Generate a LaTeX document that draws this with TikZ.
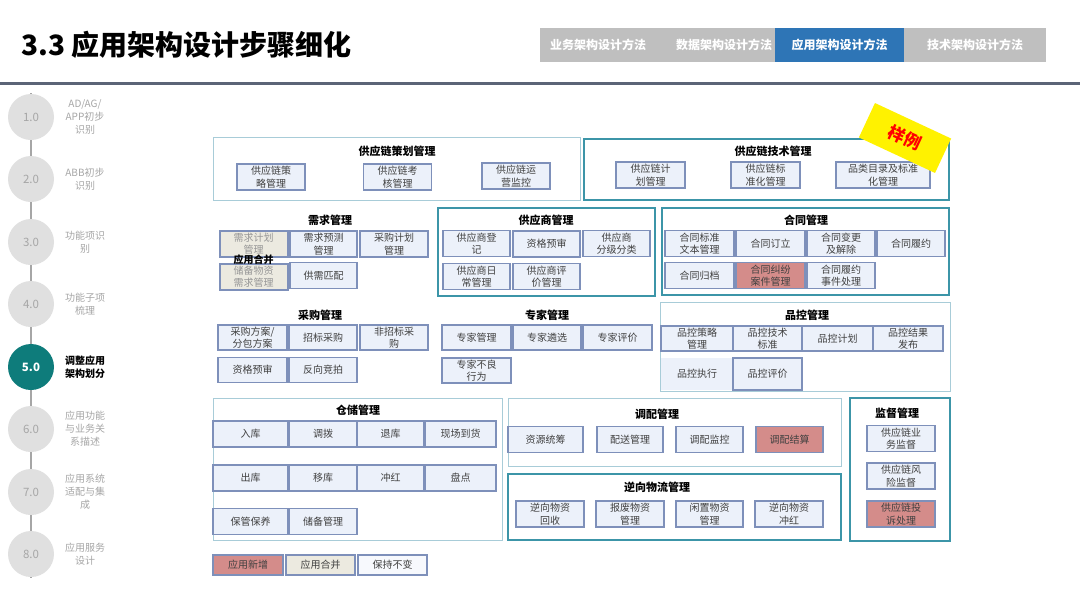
\documentclass[tikz,border=0pt]{standalone}
\usepackage{fontspec}
\setmainfont{Noto Sans CJK SC}
\usepackage{tikz}
\usetikzlibrary{positioning,calc}
\definecolor{fnedge}{RGB}{126,144,186}
\definecolor{fnfill}{RGB}{236,241,250}
\definecolor{fntext}{RGB}{64,64,64}
\definecolor{newfill}{RGB}{212,140,138}
\definecolor{mergefill}{RGB}{236,234,224}
\definecolor{mergetext}{RGB}{150,150,150}
\definecolor{panelthin}{RGB}{168,204,216}
\definecolor{panelthick}{RGB}{60,149,168}
\definecolor{tabgray}{RGB}{191,191,191}
\definecolor{tabblue}{RGB}{46,117,182}
\definecolor{rulegray}{RGB}{91,100,119}
\definecolor{dotgray}{RGB}{224,224,224}
\definecolor{numgray}{RGB}{166,166,166}
\definecolor{curteal}{RGB}{14,124,123}
\tikzset{
  fn/.style     ={rectangle, draw=fnedge, fill=fnfill, line width=1.2pt, text=fntext,
                  font=\fontsize{10}{12.5}\selectfont, align=center,
                  minimum width=68pt, minimum height=26pt, inner sep=1pt},
  fnnew/.style  ={fn, fill=newfill},
  fnmerge/.style={fn, fill=mergefill, text=mergetext, line width=2pt},
  grpthin/.style ={draw=panelthin, line width=0.9pt},
  grpthick/.style={draw=panelthick, line width=1.7pt},
  gtitle/.style ={font=\bfseries\fontsize{11}{13}\selectfont, text=black},
  tab/.style    ={rectangle, anchor=north west, minimum height=34pt, text=white,
                  font=\bfseries\fontsize{12}{14}\selectfont},
  dot/.style    ={circle, fill=dotgray, minimum size=46pt, inner sep=0pt,
                  text=numgray, font=\fontsize{11.5}{13}\selectfont},
  dotlab/.style ={align=center, text=numgray, font=\fontsize{10}{13}\selectfont},
  tline/.style  ={draw=numgray, line width=2pt},
}
\begin{document}
\begin{tikzpicture}[x=1pt,y=-1pt]
  \useasboundingbox[fill=white] (0,0) rectangle (1080,608);

  \node[anchor=west, font=\bfseries\fontsize{28}{32}\selectfont] (title) at (18,45) {3.3 应用架构设计步骤细化};
  \node[tab, fill=tabgray, minimum width=235pt] (tabs) at (540,28) {};
  \node[font=\bfseries\fontsize{12}{14}\selectfont, text=white] (tb1) at (598,45) {业务架构设计方法};
  \node[font=\bfseries\fontsize{12}{14}\selectfont, text=white] (tb2) at (724,45) {数据架构设计方法};
  \node[tab, fill=tabblue, minimum width=129pt] (tb3) at (775,28) {应用架构设计方法};
  \node[tab, fill=tabgray, minimum width=142pt] (tb4) at (904,28) {技术架构设计方法};
  \coordinate (rl) at (0,83); \coordinate (rr) at (1080,83);
  \draw[rulegray, line width=3pt] (rl) -- (rr);

  \coordinate (ltop) at (31,93); \coordinate (lbot) at (31,578);
  \draw[tline] (ltop) -- (lbot);
  \foreach \n/\yy/\lab in {1/117/{AD/AG/\\APP初步\\识别}, 2/179/{ABB初步\\识别},
                           3/242/{功能项识\\别}, 4/304/{功能子项\\梳理},
                           6/429/{应用功能\\与业务关\\系描述}, 7/492/{应用系统\\适配与集\\成},
                           8/554/{应用服务\\设计}} {
    \node[dot] (c\n) at (31,\yy) {\n.0};
    \node[dotlab] (l\n) at (85,\yy) {\lab};
  }
  \node[dot, fill=curteal, text=white, font=\bfseries\fontsize{11.5}{13}\selectfont] (c5) at (31,367) {5.0};
  \node[dotlab, text=black, font=\bfseries\fontsize{10}{13}\selectfont] (l5) at (85,367) {调整应用\\架构划分};

  \draw[grpthin] (213,137) rectangle (580,200);
  \node[gtitle] (plan) at (397,151) {供应链策划管理};
  \node[fn] (pl1) at (271,177) {供应链策\\略管理};
  \node[fn] (pl2) at (397.5,177) {供应链考\\核管理};
  \node[fn] (pl3) at (516,176) {供应链运\\营监控};

  \draw[grpthick] (584,139) rectangle (949,200);
  \node[gtitle] (tech) at (773,151) {供应链技术管理};
  \node[fn, minimum width=69pt] (te1) at (650.5,175) {供应链计\\划管理};
  \node[fn, minimum width=69pt] (te2) at (765.5,175) {供应链标\\准化管理};
  \node[fn, minimum width=94pt] (te3) at (883,175) {品类目录及标准\\化管理};

  \node[gtitle] (dem) at (330,220) {需求管理};
  \node[fnmerge] (de1) at (253.5,243.5) {需求计划\\管理};
  \node[fn, minimum width=67pt] (de2) at (323.5,244) {需求预测\\管理};
  \node[fn] (de3) at (394,244) {采购计划\\管理};
  \node[fnmerge] (de4) at (253.5,276.5) {储备物资\\需求管理};
  \node[fn, minimum width=67pt] (de5) at (323.5,275.5) {供需匹配};
  \node[font=\bfseries\fontsize{10}{12}\selectfont] (demm) at (253.5,260) {应用合并};

  \draw[grpthick] (438,208) rectangle (655,296);
  \node[gtitle] (sup) at (546,220) {供应商管理};
  \node[fn, minimum width=67pt] (su1) at (476.5,243.5) {供应商登\\记};
  \node[fn, minimum width=67pt] (su2) at (546.5,244) {资格预审};
  \node[fn, minimum width=67pt] (su3) at (616.5,243.5) {供应商\\分级分类};
  \node[fn, minimum width=67pt] (su4) at (476.5,276.5) {供应商日\\常管理};
  \node[fn, minimum width=67pt] (su5) at (546.5,276.5) {供应商评\\价管理};

  \draw[grpthick] (662,208) rectangle (949,295);
  \node[gtitle] (con) at (806,220) {合同管理};
  \node[fn, minimum width=69pt] (co1) at (699.5,243.5) {合同标准\\文本管理};
  \node[fn, minimum width=69pt] (co2) at (770.5,243.5) {合同订立};
  \node[fn] (co3) at (841,243.5) {合同变更\\及解除};
  \node[fn] (co4) at (911,243.5) {合同履约};
  \node[fn, minimum width=69pt] (co5) at (699.5,275.5) {合同归档};
  \node[fnnew, minimum width=69pt] (co6) at (770.5,275.5) {合同纠纷\\案件管理};
  \node[fn] (co7) at (841,275.5) {合同履约\\事件处理};

  \node[gtitle] (pur) at (320,315) {采购管理};
  \node[fn, minimum width=69pt, minimum height=25pt] (pu1) at (252.5,337.5) {采购方案/\\分包方案};
  \node[fn, minimum height=25pt] (pu2) at (323,337.5) {招标采购};
  \node[fn, minimum height=25pt] (pu3) at (394,337.5) {非招标采\\购};
  \node[fn, minimum width=69pt, minimum height=25pt] (pu4) at (252.5,370) {资格预审};
  \node[fn, minimum height=25pt] (pu5) at (323,370) {反向竞拍};

  \node[gtitle] (exp) at (547,315) {专家管理};
  \node[fn, minimum width=69pt, minimum height=25pt] (ex1) at (476.5,337.5) {专家管理};
  \node[fn, minimum height=25pt] (ex2) at (547,337.5) {专家遴选};
  \node[fn, minimum width=69pt, minimum height=25pt] (ex3) at (617.5,337.5) {专家评价};
  \node[fn, minimum width=69pt, minimum height=25pt] (ex4) at (476.5,370.5) {专家不良\\行为};

  \draw[grpthin] (660,302) rectangle (950,391);
  \node[gtitle] (qc) at (807,315) {品控管理};
  \node[fn, minimum width=72pt, minimum height=25pt] (qc1) at (697,338.5) {品控策略\\管理};
  \node[fn, minimum width=69pt, minimum height=25pt] (qc2) at (767.5,338.5) {品控技术\\标准};
  \node[fn, minimum width=71pt, minimum height=25pt] (qc3) at (837.5,338.5) {品控计划};
  \node[fn, minimum width=70pt, minimum height=25pt] (qc4) at (908,338.5) {品控结果\\发布};
  \node[fn, draw=none, minimum width=72pt, minimum height=32pt] (qc5) at (697,374) {品控执行};
  \node[fn, minimum width=69pt, minimum height=32pt] (qc6) at (767.5,374) {品控评价};

  \draw[grpthin] (213,398) rectangle (502,540);
  \node[gtitle] (wh) at (358,410) {仓储管理};
  \node[fn, minimum width=75pt] (wh1) at (250.5,434) {入库};
  \node[fn] (wh2) at (323,434) {调拨};
  \node[fn, minimum width=67pt] (wh3) at (390.5,434) {退库};
  \node[fn, minimum width=71pt] (wh4) at (460.5,434) {现场到货};
  \node[fn, minimum width=75pt] (wh5) at (250.5,478) {出库};
  \node[fn] (wh6) at (323,478) {移库};
  \node[fn, minimum width=67pt] (wh7) at (390.5,478) {冲红};
  \node[fn, minimum width=71pt] (wh8) at (460.5,478) {盘点};
  \node[fn, minimum width=75pt] (wh9) at (250.5,521.5) {保管保养};
  \node[fn] (wh10) at (323,521.5) {储备管理};

  \draw[grpthin] (508,398) rectangle (841,466);
  \node[gtitle] (dis) at (657,414) {调配管理};
  \node[fn, minimum width=75pt] (di1) at (545.5,439.5) {资源统筹};
  \node[fn, minimum width=66pt] (di2) at (630,439.5) {配送管理};
  \node[fn, minimum width=67pt] (di3) at (709.5,439.5) {调配监控};
  \node[fnnew, minimum width=67pt] (di4) at (789.5,439.5) {调配结算};

  \draw[grpthick] (508,474) rectangle (841,540);
  \node[gtitle] (rev) at (657,487) {逆向物流管理};
  \node[fn] (re1) at (550,514) {逆向物资\\回收};
  \node[fn] (re2) at (630,514) {报废物资\\管理};
  \node[fn, minimum width=67pt] (re3) at (709.5,514) {闲置物资\\管理};
  \node[fn] (re4) at (789,514) {逆向物资\\冲红};

  \draw[grpthick] (850,398) rectangle (950,541);
  \node[gtitle] (sv) at (897,413) {监督管理};
  \node[fn] (sv1) at (901,438.5) {供应链业\\务监督};
  \node[fn] (sv2) at (901,476) {供应链风\\险监督};
  \node[fnnew] (sv3) at (901,514) {供应链投\\诉处理};

  \node[fnnew, minimum width=70pt, minimum height=20pt] (lg1) at (248,565) {应用新增};
  \node[fnmerge, text=fntext, line width=1.2pt, minimum width=69pt, minimum height=20pt] (lg2) at (320.5,565) {应用合并};
  \node[fn, fill=white!60!fnfill, minimum width=69pt, minimum height=20pt] (lg3) at (392.5,565) {保持不变};

  \node[rotate=-25, fill=yellow, minimum width=84pt, minimum height=38pt, text=red,
        font=\bfseries\fontsize{17}{19}\selectfont] (sample) at (905,138) {样例};
\end{tikzpicture}
\end{document}
